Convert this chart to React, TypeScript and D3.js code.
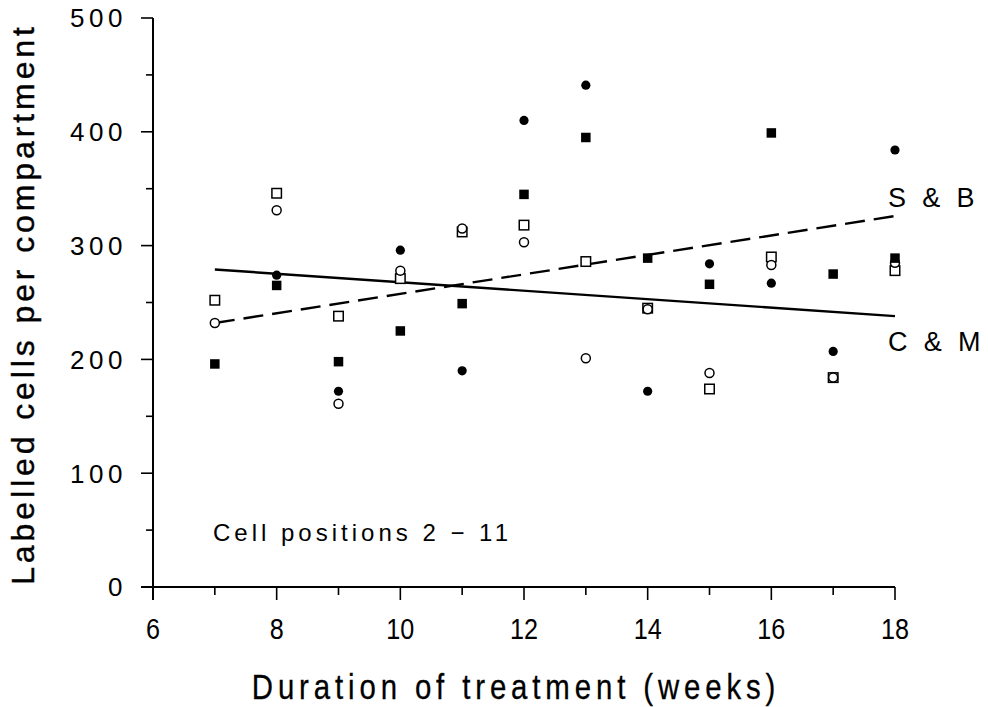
import React from "react";
import * as d3 from "d3";

const weeks = [7, 8, 9, 10, 11, 12, 13, 14, 15, 16, 17, 18];
const filledCircle: (number | null)[] = [null, 274, 172, 296, 190, 410, 441, 172, 284, 267, 207, 384];
const openCircle: (number | null)[] = [232, 331, 161, 278, 315, 303, 201, 244, 188, 283, 184, 285];
const filledSquare: (number | null)[] = [196, 265, 198, 225, 249, 345, 395, 289, 266, 399, 275, 289];
const openSquare: (number | null)[] = [252, 346, 238, 271, 312, 318, 286, 245, 174, 290, 184, 278];

const lineSB = [{ x: 7, y: 232 }, { x: 18, y: 326 }];
const lineCM = [{ x: 7, y: 279 }, { x: 18, y: 238 }];

const xTicks = [6, 8, 10, 12, 14, 16, 18];
const xMinorTicks = [7, 9, 11, 13, 15, 17];
const yTicks = [0, 100, 200, 300, 400, 500];
const yMinorTicks = [50, 150, 250, 350, 450];

export default function App() {
  const W = 988, H = 707;
  const x = d3.scaleLinear().domain([6, 18]).range([153, 895]);
  const y = d3.scaleLinear().domain([0, 500]).range([587, 18]);
  const line = d3.line<{ x: number; y: number }>().x(d => x(d.x)).y(d => y(d.y));
  const font = "'Liberation Sans', Arial, Helvetica, sans-serif";
  const pts = (arr: (number | null)[]) =>
    weeks.map((w, i) => ({ w, v: arr[i] })).filter(d => d.v != null) as { w: number; v: number }[];
  const s = 9.5;
  return (
    <svg width={W} height={H} style={{ position: "absolute", left: 0, top: 0, background: "#fff" }}>
      <rect x={0} y={0} width={W} height={H} fill="#fff" />
      {/* axes */}
      <line x1={x(6)} x2={x(6)} y1={y(500)} y2={y(0) + 13} stroke="#000" strokeWidth={2} />
      <line x1={x(6) - 12} x2={x(18)} y1={y(0)} y2={y(0)} stroke="#000" strokeWidth={2} />
      {yTicks.map(t => (
        <g key={"y" + t}>
          <line x1={x(6) - 12} x2={x(6)} y1={y(t)} y2={y(t)} stroke="#000" strokeWidth={1.6} />
          <text x={127} y={y(t)} dy="0.36em" textAnchor="end" fontFamily={font} fontSize={26} letterSpacing={4.5}>{t}</text>
        </g>
      ))}
      {yMinorTicks.map(t => (
        <line key={"ym" + t} x1={x(6) - 7} x2={x(6)} y1={y(t)} y2={y(t)} stroke="#000" strokeWidth={1.6} />
      ))}
      {xTicks.map(t => (
        <g key={"x" + t}>
          <line x1={x(t)} x2={x(t)} y1={y(0)} y2={y(0) + 13} stroke="#000" strokeWidth={1.6} />
          <text transform={`translate(${x(t)},639) scale(0.84,1)`} textAnchor="middle" fontFamily={font} fontSize={30}>{t}</text>
        </g>
      ))}
      {xMinorTicks.map(t => (
        <line key={"xm" + t} x1={x(t)} x2={x(t)} y1={y(0)} y2={y(0) + 8} stroke="#000" strokeWidth={1.6} />
      ))}
      {/* titles */}
      <text transform="translate(516,699) scale(0.84,1)" textAnchor="middle" fontFamily={font} fontSize={35} letterSpacing={5.8} stroke="#000" strokeWidth={0.3}>Duration of treatment (weeks)</text>
      <text transform="translate(34,304) rotate(-90)" textAnchor="middle" fontFamily={font} fontSize={32} letterSpacing={3.9} stroke="#000" strokeWidth={0.4}>Labelled cells per compartment</text>
      <text x={213} y={541} fontFamily={font} fontSize={24} letterSpacing={4}>Cell positions 2 − 11</text>
      <text x={888} y={207} fontFamily={font} fontSize={27} letterSpacing={4.4}>S &amp; B</text>
      <text x={888} y={351} fontFamily={font} fontSize={27} letterSpacing={4.4}>C &amp; M</text>
      {/* lines */}
      <path d={line(lineCM) || ""} fill="none" stroke="#000" strokeWidth={2.4} />
      <path d={line(lineSB) || ""} fill="none" stroke="#000" strokeWidth={2.4} strokeDasharray="20,9" />
      {/* markers */}
      {pts(openSquare).map(d => (
        <rect key={"os" + d.w} x={x(d.w) - s / 2} y={y(d.v) - s / 2} width={s} height={s} fill="#fff" stroke="#000" strokeWidth={1.5} />
      ))}
      {pts(openCircle).map(d => (
        <circle key={"oc" + d.w} cx={x(d.w)} cy={y(d.v)} r={4.5} fill="#fff" stroke="#000" strokeWidth={1.5} />
      ))}
      {pts(filledSquare).map(d => (
        <rect key={"fs" + d.w} x={x(d.w) - s / 2} y={y(d.v) - s / 2} width={s} height={s} fill="#000" />
      ))}
      {pts(filledCircle).map(d => (
        <circle key={"fc" + d.w} cx={x(d.w)} cy={y(d.v)} r={4.6} fill="#000" />
      ))}
    </svg>
  );
}
